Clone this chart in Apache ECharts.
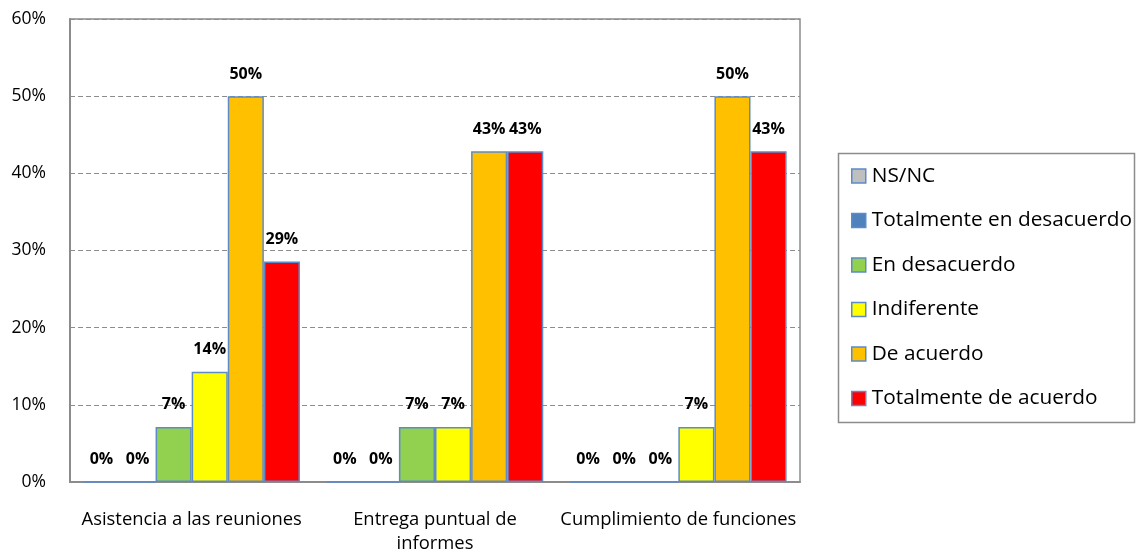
<!DOCTYPE html>
<html><head><meta charset="utf-8">
<script src="https://cdn.jsdelivr.net/npm/echarts@6/dist/echarts.min.js"></script>
<style>html,body{margin:0;padding:0;background:#fff}#c{width:1142px;height:556px}</style>
</head><body><div id="c"></div>
<script>
const categories = ['Asistencia a las reuniones', 'Entrega puntual de\ninformes', 'Cumplimiento de funciones'];
const seriesNames = ['NS/NC', 'Totalmente en desacuerdo', 'En desacuerdo', 'Indiferente', 'De acuerdo', 'Totalmente de acuerdo'];
const seriesColors = ['#BFBFBF', '#4F81BD', '#92D050', '#FFFF00', '#FFC000', '#FF0000'];
const nsnc = [0, 0, 0];
const totDesacuerdo = [0, 0, 0];
const desacuerdo = [0.0714, 0.0714, 0];
const indiferente = [0.1429, 0.0714, 0.0714];
const deAcuerdo = [0.50, 0.4286, 0.50];
const totAcuerdo = [0.2857, 0.4286, 0.4286];
const yTicks = [0, 0.1, 0.2, 0.3, 0.4, 0.5, 0.6];

const seriesData = [nsnc, totDesacuerdo, desacuerdo, indiferente, deAcuerdo, totAcuerdo];
const font = 'Open Sans, Liberation Sans, sans-serif';
const chart = echarts.init(document.getElementById('c'), null, {renderer: 'canvas'});
chart.setOption({
  animation: false,
  backgroundColor: '#fff',
  grid: {left: 70, right: 342, top: 19, bottom: 74, show: true, borderColor: '#8c8c8c', borderWidth: 1.5, backgroundColor: 'transparent'},
  legend: {
    orient: 'vertical', left: 851, top: 165, itemWidth: 14, itemHeight: 14, itemGap: 22.5,
    padding: 0, icon: 'rect',
    itemStyle: {borderColor: '#5B8BCB', borderWidth: 1.5},
    textStyle: {fontFamily: font, fontSize: 20.8, lineHeight: 22, color: '#000', padding: [0, 0, 0, 1]},
    data: seriesNames
  },
  graphic: [{type: 'rect', shape: {x: 838.5, y: 153.5, width: 296, height: 269}, style: {fill: 'none', stroke: '#8c8c8c', lineWidth: 1.5}, z: 0}],
  xAxis: {
    type: 'category', data: categories,
    axisLine: {show: true, lineStyle: {color: '#8c8c8c', width: 2}},
    axisTick: {show: false},
    axisLabel: {fontFamily: font, fontSize: 18.4, color: '#000', margin: 26, lineHeight: 24, interval: 0}
  },
  yAxis: {
    type: 'value', min: 0, max: 0.6, interval: 0.1,
    axisLine: {show: true, lineStyle: {color: '#8c8c8c', width: 2}},
    axisTick: {show: false},
    axisLabel: {fontFamily: font, fontSize: 17.5, color: '#000', margin: 24,
      formatter: v => Math.round(v * 100) + '%'},
    splitLine: {show: true, lineStyle: {color: '#8c8c8c', type: [5, 3], width: 1}}
  },
  series: seriesNames.map((n, i) => ({
    name: n, type: 'bar', data: seriesData[i],
    barGap: '0%', barCategoryGap: '11%',
    itemStyle: {color: seriesColors[i], borderColor: '#5B8BCB', borderWidth: 1.5},
    label: {show: true, position: 'top', distance: 14, fontFamily: font, fontWeight: 'bold', fontSize: 16, color: '#000',
      formatter: p => Math.round(p.value * 100) + '%'}
  }))
});
</script></body></html>
